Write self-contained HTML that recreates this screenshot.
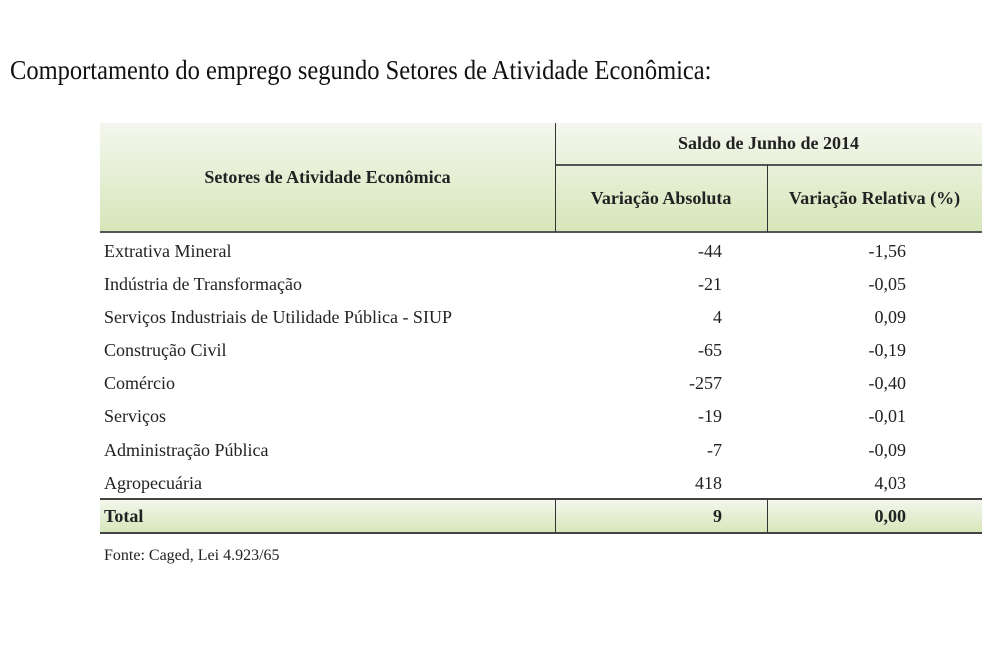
<!DOCTYPE html>
<html><head><meta charset="utf-8"><style>
body{margin:0;width:1000px;height:664px;background:#fff;position:relative;overflow:hidden;font-family:"Liberation Serif",serif;color:#222}
.a{position:absolute;white-space:nowrap}
.hd{background:linear-gradient(#f4f7ee,#d6e6b9)}
.b{font-weight:bold}
.r{font-size:18px}
.n{text-align:right}
</style></head><body>
<div class="a" style="left:10px;top:56px;font-size:24.5px;color:#111;transform:scaleY(1.1);transform-origin:left top">Comportamento do emprego segundo Setores de Atividade Econômica:</div>
<div class="a hd" style="left:100px;top:123px;width:882px;height:109px"></div>
<div class="a hd" style="left:100px;top:499px;width:882px;height:34px"></div>
<div class="a" style="left:100px;top:231px;width:882px;height:2px;background:#555"></div>
<div class="a" style="left:555px;top:164px;width:427px;height:2px;background:#555"></div>
<div class="a" style="left:555px;top:123px;width:1px;height:109px;background:#333"></div>
<div class="a" style="left:767px;top:165px;width:1px;height:67px;background:#333"></div>
<div class="a" style="left:100px;top:498px;width:882px;height:2px;background:#444"></div>
<div class="a" style="left:100px;top:532px;width:882px;height:2px;background:#444"></div>
<div class="a" style="left:555px;top:499px;width:1px;height:34px;background:#333"></div>
<div class="a" style="left:767px;top:499px;width:1px;height:34px;background:#333"></div>
<div class="a b r" style="left:555px;width:427px;top:133px;text-align:center">Saldo de Junho de 2014</div>
<div class="a b r" style="left:100px;width:455px;top:167px;text-align:center">Setores de Atividade Econômica</div>
<div class="a b r" style="left:555px;width:212px;top:188px;text-align:center">Variação Absoluta</div>
<div class="a b r" style="left:767px;width:215px;top:188px;text-align:center">Variação Relativa (%)</div>
<div class="r" style="position:absolute;left:104px;top:235px;line-height:33.1px">
Extrativa Mineral<br>Indústria de Transformação<br>Serviços Industriais de Utilidade Pública - SIUP<br>Construção Civil<br>Comércio<br>Serviços<br>Administração Pública<br>Agropecuária<br><b>Total</b></div>
<div class="r n" style="position:absolute;left:600px;width:122px;top:235px;line-height:33.1px">-44<br>-21<br>4<br>-65<br>-257<br>-19<br>-7<br>418<br><b>9</b></div>
<div class="r n" style="position:absolute;left:780px;width:126px;top:235px;line-height:33.1px">-1,56<br>-0,05<br>0,09<br>-0,19<br>-0,40<br>-0,01<br>-0,09<br>4,03<br><b>0,00</b></div>
<div class="a" style="left:104px;top:547px;font-size:16px">Fonte: Caged, Lei 4.923/65</div>
</body></html>
